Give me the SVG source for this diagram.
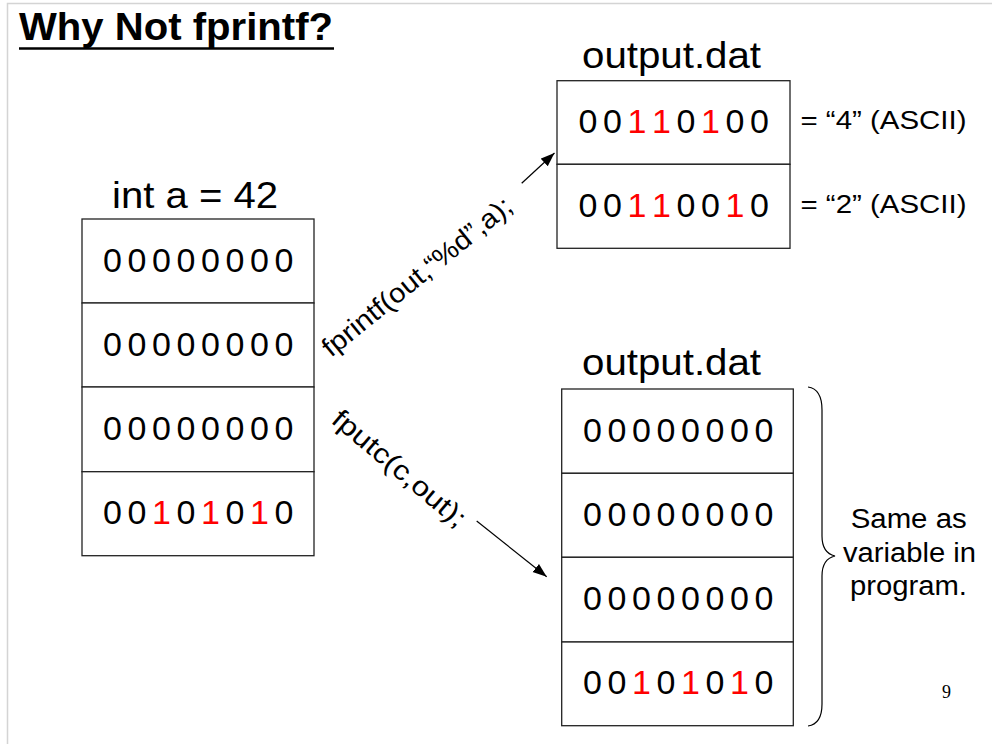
<svg xmlns="http://www.w3.org/2000/svg" width="992" height="744" viewBox="0 0 992 744">
<style>
.box{fill:#fff;stroke:#222;stroke-width:1.3}
.bits{font-family:"Liberation Sans",Arial,sans-serif;font-size:34px;fill:#000}
.r{fill:#ff0000}
.lbl{font-family:"Liberation Sans",Arial,sans-serif;fill:#000}
.conn{stroke:#000;stroke-width:1.2;fill:none}
</style>
<defs>
<marker id="ah" markerUnits="userSpaceOnUse" markerWidth="16" markerHeight="12" refX="14" refY="6" orient="auto">
<path d="M0,0.8 L14,6 L0,11.2 Z" fill="#000"/>
</marker>
</defs>
<rect x="0" y="0" width="992" height="744" fill="#fff"/>
<path d="M7.5,744 V3.5 H992" fill="none" stroke="#d4d4d4" stroke-width="1.5"/>
<g id="title">
<text x="19" y="40" class="lbl" font-size="38" font-weight="bold" textLength="314" lengthAdjust="spacingAndGlyphs">Why Not fprintf?</text>
<line x1="19" y1="48.5" x2="334" y2="48.5" stroke="#000" stroke-width="2.6"/>
</g>
<g id="var-a">
<text x="112" y="207.7" class="lbl" font-size="36" textLength="166" lengthAdjust="spacingAndGlyphs">int a = 42</text>
<rect class="box" x="82" y="219" width="232" height="84"/>
<rect class="box" x="82" y="303" width="232" height="84"/>
<rect class="box" x="82" y="387" width="232" height="84.7"/>
<rect class="box" x="82" y="471.7" width="232" height="84"/>
<text class="bits" x="103 127.5 152 176.5 201 225.5 250 274.5" y="272">00000000</text>
<text class="bits" x="103 127.5 152 176.5 201 225.5 250 274.5" y="356">00000000</text>
<text class="bits" x="103 127.5 152 176.5 201 225.5 250 274.5" y="440">00000000</text>
<text class="bits" x="103 127.5 152 176.5 201 225.5 250 274.5" y="524">00<tspan class="r">1</tspan>0<tspan class="r">1</tspan>0<tspan class="r">1</tspan>0</text>
</g>
<g id="file-text">
<text x="582" y="68" class="lbl" font-size="36" textLength="179" lengthAdjust="spacingAndGlyphs">output.dat</text>
<rect class="box" x="557" y="80.7" width="233" height="83.6"/>
<rect class="box" x="557" y="164.3" width="233" height="84"/>
<text class="bits" x="578.6 603.1 627.6 652.1 676.6 701.1 725.6 750.1" y="132.7">00<tspan class="r">11</tspan>0<tspan class="r">1</tspan>00</text>
<text class="bits" x="578.6 603.1 627.6 652.1 676.6 701.1 725.6 750.1" y="216.7">00<tspan class="r">11</tspan>00<tspan class="r">1</tspan>0</text>
<text x="800.5" y="129.3" class="lbl" font-size="26" textLength="166" lengthAdjust="spacingAndGlyphs">= “4” (ASCII)</text>
<text x="800.5" y="213.3" class="lbl" font-size="26" textLength="166" lengthAdjust="spacingAndGlyphs">= “2” (ASCII)</text>
</g>
<g id="file-binary">
<text x="582" y="375" class="lbl" font-size="36" textLength="179" lengthAdjust="spacingAndGlyphs">output.dat</text>
<rect class="box" x="561.7" y="389" width="231.6" height="84.3"/>
<rect class="box" x="561.7" y="473.3" width="231.6" height="84"/>
<rect class="box" x="561.7" y="557.3" width="231.6" height="84.7"/>
<rect class="box" x="561.7" y="642" width="231.6" height="83.7"/>
<text class="bits" x="583 607.5 632 656.5 681 705.5 730 754.5" y="441.7">00000000</text>
<text class="bits" x="583 607.5 632 656.5 681 705.5 730 754.5" y="525.7">00000000</text>
<text class="bits" x="583 607.5 632 656.5 681 705.5 730 754.5" y="610">00000000</text>
<text class="bits" x="583 607.5 632 656.5 681 705.5 730 754.5" y="694">00<tspan class="r">1</tspan>0<tspan class="r">1</tspan>0<tspan class="r">1</tspan>0</text>
</g>
<g id="brace-note">
<path d="M808,387 Q822,389 822,410 L822,536 Q822,553 835,556 Q822,559 822,576 L822,704 Q822,724 808,726" fill="none" stroke="#000" stroke-width="1.2"/>
<text x="850.7" y="528.3" class="lbl" font-size="27" textLength="116" lengthAdjust="spacingAndGlyphs">Same as</text>
<text x="843" y="561.7" class="lbl" font-size="27" textLength="133" lengthAdjust="spacingAndGlyphs">variable in</text>
<text x="850" y="595" class="lbl" font-size="27" textLength="117" lengthAdjust="spacingAndGlyphs">program.</text>
</g>
<g id="connectors">
<line class="conn" x1="521.7" y1="183.3" x2="554.5" y2="153" marker-end="url(#ah)"/>
<line class="conn" x1="476.7" y1="521" x2="546.7" y2="576.7" marker-end="url(#ah)"/>
<text class="lbl" font-size="27" transform="translate(331,358) rotate(-39)" x="0" y="0" textLength="236" lengthAdjust="spacingAndGlyphs">fprintf(out,“%d”,a);</text>
<text class="lbl" font-size="27" transform="translate(330,422) rotate(40)" x="0" y="0" textLength="166" lengthAdjust="spacingAndGlyphs">fputc(c,out);</text>
</g>
<text x="942" y="697.5" font-family="Liberation Serif,serif" font-size="18" fill="#000">9</text>
</svg>
